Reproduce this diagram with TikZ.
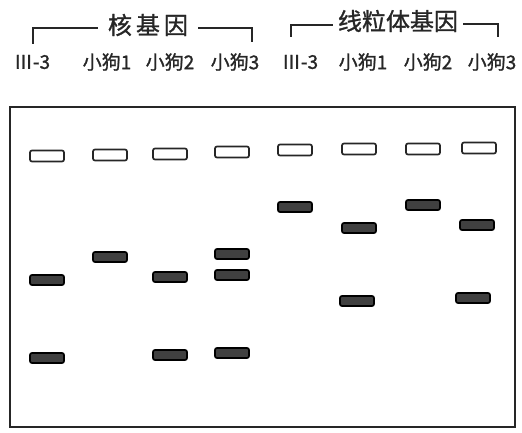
\documentclass[tikz,border=0pt]{standalone}
\usepackage{fontspec}
\newfontfamily\cjk[FakeBold=1.2]{Noto Sans CJK SC}
\begin{document}
\begin{tikzpicture}[x=1pt,y=-1pt,
  well/.style={draw=black!85,fill=white,line width=1.7pt,rounded corners=2pt,minimum width=34pt,minimum height=11pt,inner sep=0pt},
  band/.style={draw=black,fill=black!75,line width=1.7pt,rounded corners=2pt,minimum width=34pt,minimum height=10pt,inner sep=0pt},
  lbl/.style={font=\cjk\fontsize{19}{19}\selectfont,text=black!85,inner sep=0pt},
  hdr/.style={font=\cjk\fontsize{24}{24}\selectfont,text=black!85,inner sep=0pt},
  brk/.style={line width=2.2pt,black!85}]
\useasboundingbox (0,0) rectangle (522,433);
% headers
\node[hdr] (h1) at (148,25) {核\,基\,因};
\node[hdr] (h2) at (398,21) {线粒体基因};
\draw[brk] (33,44) -- (33,28) -- (98,28);
\draw[brk] (198,28) -- (252,28) -- (252,42);
\draw[brk] (291,37) -- (291,25) -- (333,25);
\draw[brk] (463,24) -- (498,24) -- (498,37);
% lane labels
\node[lbl] (l1) at (32,62) {Ⅲ-3};
\node[lbl] (l2) at (107,62) {小狗1};
\node[lbl] (l3) at (170,62) {小狗2};
\node[lbl] (l4) at (235,62) {小狗3};
\node[lbl] (l5) at (300,62) {Ⅲ-3};
\node[lbl] (l6) at (363,62) {小狗1};
\node[lbl] (l7) at (428,62) {小狗2};
\node[lbl] (l8) at (492,62) {小狗3};
% gel
\draw[line width=2.2pt,black!85] (10,107) rectangle (515,427);
% wells
\node[well] (w1) at (47,156) {};
\node[well] (w2) at (110,155) {};
\node[well] (w3) at (170,154) {};
\node[well] (w4) at (232,152) {};
\node[well] (w5) at (295,150) {};
\node[well] (w6) at (359,149) {};
\node[well] (w7) at (423,149) {};
\node[well] (w8) at (479,148) {};
% bands nuclear
\node[band] (b1a) at (47,280) {};
\node[band] (b1b) at (47,358) {};
\node[band] (b2a) at (110,257) {};
\node[band] (b3a) at (170,277) {};
\node[band] (b3b) at (170,355) {};
\node[band] (b4a) at (232,254) {};
\node[band] (b4b) at (232,275) {};
\node[band] (b4c) at (232,353) {};
% bands mitochondrial
\node[band] (b5a) at (295,207) {};
\node[band] (b6a) at (359,228) {};
\node[band] (b6b) at (357,301) {};
\node[band] (b7a) at (423,205) {};
\node[band] (b8a) at (477,225) {};
\node[band] (b8b) at (473,298) {};
\end{tikzpicture}
\end{document}
